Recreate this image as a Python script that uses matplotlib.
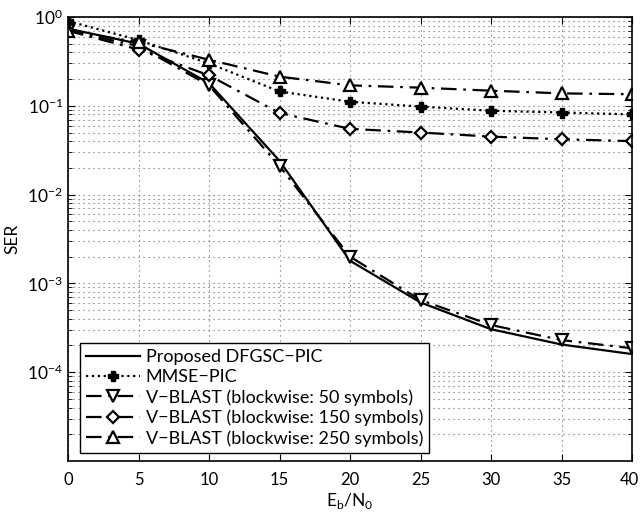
import numpy as np
import matplotlib.pyplot as plt
import matplotlib.transforms as mtransforms
from matplotlib.ticker import LogLocator, NullFormatter

plt.rcParams['font.family'] = ['Lato', 'DejaVu Sans']
plt.rcParams['mathtext.fontset'] = 'custom'
plt.rcParams['mathtext.rm'] = 'Lato'

# SNR points (dB)
ebn0 = [0, 5, 10, 15, 20, 25, 30, 35, 40]

# SER values
ser_dfgsc = [0.74, 0.50, 0.18, 0.024, 0.0018, 6.1e-4, 3.05e-4, 2.05e-4, 1.6e-4]
ser_mmse = [0.90, 0.55, 0.30, 0.145, 0.111, 0.098, 0.088, 0.084, 0.080]
ser_vb50 = [0.70, 0.47, 0.17, 0.021, 0.0020, 6.5e-4, 3.4e-4, 2.3e-4, 1.86e-4]
ser_vb150 = [0.70, 0.43, 0.22, 0.083, 0.055, 0.050, 0.045, 0.042, 0.040]
ser_vb250 = [0.70, 0.52, 0.33, 0.213, 0.17, 0.16, 0.148, 0.138, 0.135]

labels = ['Proposed DFGSC\u2212PIC', 'MMSE\u2212PIC',
          'V\u2212BLAST (blockwise: 50 symbols)',
          'V\u2212BLAST (blockwise: 150 symbols)',
          'V\u2212BLAST (blockwise: 250 symbols)']

fig = plt.figure(figsize=(6.41, 5.15), dpi=100)
ax = fig.add_axes([68/641, 1-461/515, (632-68)/641, (461-17)/515])

dashdot = (0, (7, 3, 1.2, 3))
mk = dict(markerfacecolor='white', markeredgecolor='black', markeredgewidth=1.6, markersize=8)

ax.plot(ebn0, ser_dfgsc, color='black', lw=1.6, label=labels[0])
ax.plot(ebn0, ser_mmse, color='black', lw=1.6, linestyle=':', marker='P',
        markersize=7, markerfacecolor='black', markeredgecolor='black', label=labels[1])
ax.plot(ebn0, ser_vb50, color='black', lw=1.6, linestyle=dashdot, marker='v', label=labels[2], **mk)
ax.plot(ebn0, ser_vb150, color='black', lw=1.6, linestyle=dashdot, marker='D', label=labels[3],
        **{**mk, 'markersize': 6.5})
ax.plot(ebn0, ser_vb250, color='black', lw=1.6, linestyle=dashdot, marker='^', label=labels[4], **mk)

ax.set_yscale('log')
ax.set_xlim(0, 40)
ax.set_ylim(1e-5, 1)
ax.set_xticks(ebn0)
ax.set_yticks([1e-4, 1e-3, 1e-2, 1e-1, 1])
ax.yaxis.set_minor_locator(LogLocator(base=10, subs=np.arange(2, 10)))
ax.yaxis.set_minor_formatter(NullFormatter())

ax.grid(True, which='major', linestyle=(0, (1, 3.5)), color='#666666', lw=0.8)
ax.grid(True, which='minor', axis='y', linestyle=(0, (1, 3.5)), color='#666666', lw=0.8)

ax.tick_params(which='both', direction='in', top=True, right=True, labelsize=12.5)
ax.tick_params(axis='x', pad=8, labelsize=12)
ax.tick_params(which='major', length=5)
ax.tick_params(which='minor', length=3)
for s in ax.spines.values():
    s.set_linewidth(1.2)

# nudge the last x label so it stays inside the figure
last = ax.get_xticklabels()[-1]
last.set_transform(last.get_transform() + mtransforms.ScaledTranslation(-3/100, 0, fig.dpi_scale_trans))

ax.set_xlabel(r'E$_\mathrm{b}$/N$_\mathrm{0}$', fontsize=12.5, labelpad=2)
ax.set_ylabel('SER', fontsize=12.5, labelpad=5)

leg = ax.legend(loc='lower left', bbox_to_anchor=(0.021, 0.018), borderaxespad=0,
                fontsize=13, fancybox=False, edgecolor='black', framealpha=1,
                handlelength=3.0, labelspacing=0.22, borderpad=0.35, handletextpad=0.3)
leg.get_frame().set_linewidth(1.0)

fig.savefig('out.png', dpi=100)
